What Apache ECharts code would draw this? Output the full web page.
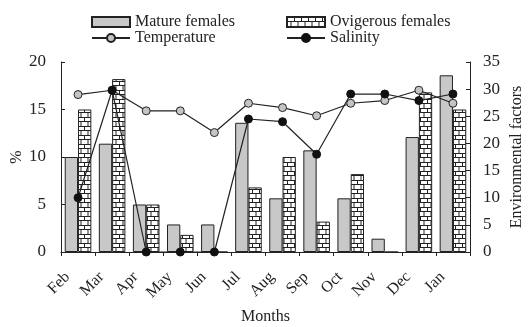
<!DOCTYPE html>
<html><head><meta charset="utf-8">
<script src="https://cdn.jsdelivr.net/npm/echarts@6/dist/echarts.min.js"></script>
<style>html,body{margin:0;padding:0;background:#fff}#c{width:531px;height:327px}</style>
</head><body><div id="c"></div>
<script>
const months = ['Feb','Mar','Apr','May','Jun','Jul','Aug','Sep','Oct','Nov','Dec','Jan'];
const matureFemales = [10.0, 11.4, 5.0, 2.9, 2.9, 13.6, 5.65, 10.7, 5.65, 1.4, 12.1, 18.6];
const ovigerousFemales = [15.0, 18.2, 5.0, 1.8, 0, 6.8, 10.0, 3.2, 8.2, 0, 16.8, 15.0];
const temperature = [29.0, 29.8, 26.0, 26.0, 22.0, 27.4, 26.6, 25.1, 27.4, 27.9, 29.8, 27.4];
const salinity = [10.0, 29.8, 0, 0, 0, 24.5, 24.0, 18.0, 29.1, 29.1, 27.9, 29.1];

const FONT = 'Liberation Serif';
const TXT = '#222';

const pc = document.createElement('canvas');
pc.width = 7; pc.height = 9;
const g = pc.getContext('2d');
g.fillStyle = '#fff'; g.fillRect(0,0,7,9);
g.strokeStyle = '#222'; g.lineWidth = 1;
g.beginPath();
g.moveTo(0,0.5); g.lineTo(7,0.5);
g.moveTo(0,4.5); g.lineTo(7,4.5);
g.moveTo(0.5,0); g.lineTo(0.5,4.5);
g.moveTo(4,4.5); g.lineTo(4,9);
g.stroke();

const chart = echarts.init(document.getElementById('c'), null, {renderer:'canvas'});
const legendText = {fontFamily: FONT, fontSize: 16, color: TXT, lineHeight: 16};
chart.setOption({
  animation: false,
  textStyle: {fontFamily: FONT},
  legend: [
    {left: 89, top: 12, orient: 'vertical', itemGap: 0, itemWidth: 38, itemHeight: 10,
     padding: 2, textStyle: legendText,
     data: [{name: 'Mature females', icon: 'rect'}, {name: 'Temperature'}]},
    {left: 284, top: 12, orient: 'vertical', itemGap: 0, itemWidth: 38, itemHeight: 10,
     padding: 2, textStyle: legendText,
     data: [{name: 'Ovigerous females', icon: 'rect'}, {name: 'Salinity'}]}
  ],
  grid: {left: 61, right: 61, top: 62, bottom: 75, outerBoundsMode: 'none', containLabel: false},
  xAxis: {
    type: 'category', data: months,
    name: 'Months', nameLocation: 'middle', nameGap: 57, nameMoveOverlap: false,
    nameTextStyle: {fontFamily: FONT, fontSize: 16, color: TXT},
    axisLine: {lineStyle: {color: '#222', width: 1}},
    axisTick: {show: true, inside: false, length: 4, lineStyle: {color: '#222'}},
    axisLabel: {rotate: 45, fontFamily: FONT, fontSize: 16, color: TXT, margin: 12,
                padding: [0, 15, 0, 0]}
  },
  yAxis: [
    {type: 'value', min: 0, max: 20, interval: 5, position: 'left',
     name: '%', nameLocation: 'middle', nameGap: 36, nameRotate: 90, nameMoveOverlap: false,
     nameTextStyle: {fontFamily: FONT, fontSize: 16, color: TXT},
     axisLine: {show: true, lineStyle: {color: '#222'}},
     axisTick: {show: true, inside: true, length: 4, lineStyle: {color: '#222'}},
     axisLabel: {fontFamily: FONT, fontSize: 17, color: TXT, margin: 15},
     splitLine: {show: false}},
    {type: 'value', min: 0, max: 35, interval: 5, position: 'right',
     name: 'Environmental factors', nameLocation: 'middle', nameGap: 39, nameRotate: 90,
     nameMoveOverlap: false,
     nameTextStyle: {fontFamily: FONT, fontSize: 16, color: TXT},
     axisLine: {show: true, lineStyle: {color: '#222'}},
     axisTick: {show: true, inside: true, length: 4, lineStyle: {color: '#222'}},
     axisLabel: {fontFamily: FONT, fontSize: 17, color: TXT, margin: 13},
     splitLine: {show: false}}
  ],
  series: [
    {name: 'Mature females', type: 'bar', yAxisIndex: 0, data: matureFemales,
     barGap: '0%', barCategoryGap: '22%',
     itemStyle: {color: '#c8c8c8', borderColor: '#222', borderWidth: 1}},
    {name: 'Ovigerous females', type: 'bar', yAxisIndex: 0, data: ovigerousFemales,
     barGap: '0%', barCategoryGap: '22%',
     itemStyle: {color: {image: pc, repeat: 'repeat'}, borderColor: '#222', borderWidth: 1}},
    {name: 'Temperature', type: 'line', yAxisIndex: 1, data: temperature, z: 5,
     symbol: 'circle', symbolSize: 8, lineStyle: {color: '#222', width: 1.2},
     itemStyle: {color: '#c4c4c4', borderColor: '#222', borderWidth: 1}},
    {name: 'Salinity', type: 'line', yAxisIndex: 1, data: salinity, z: 6,
     symbol: 'circle', symbolSize: 8, lineStyle: {color: '#222', width: 1.2},
     itemStyle: {color: '#111', borderColor: '#111', borderWidth: 1}}
  ]
});
</script></body></html>
